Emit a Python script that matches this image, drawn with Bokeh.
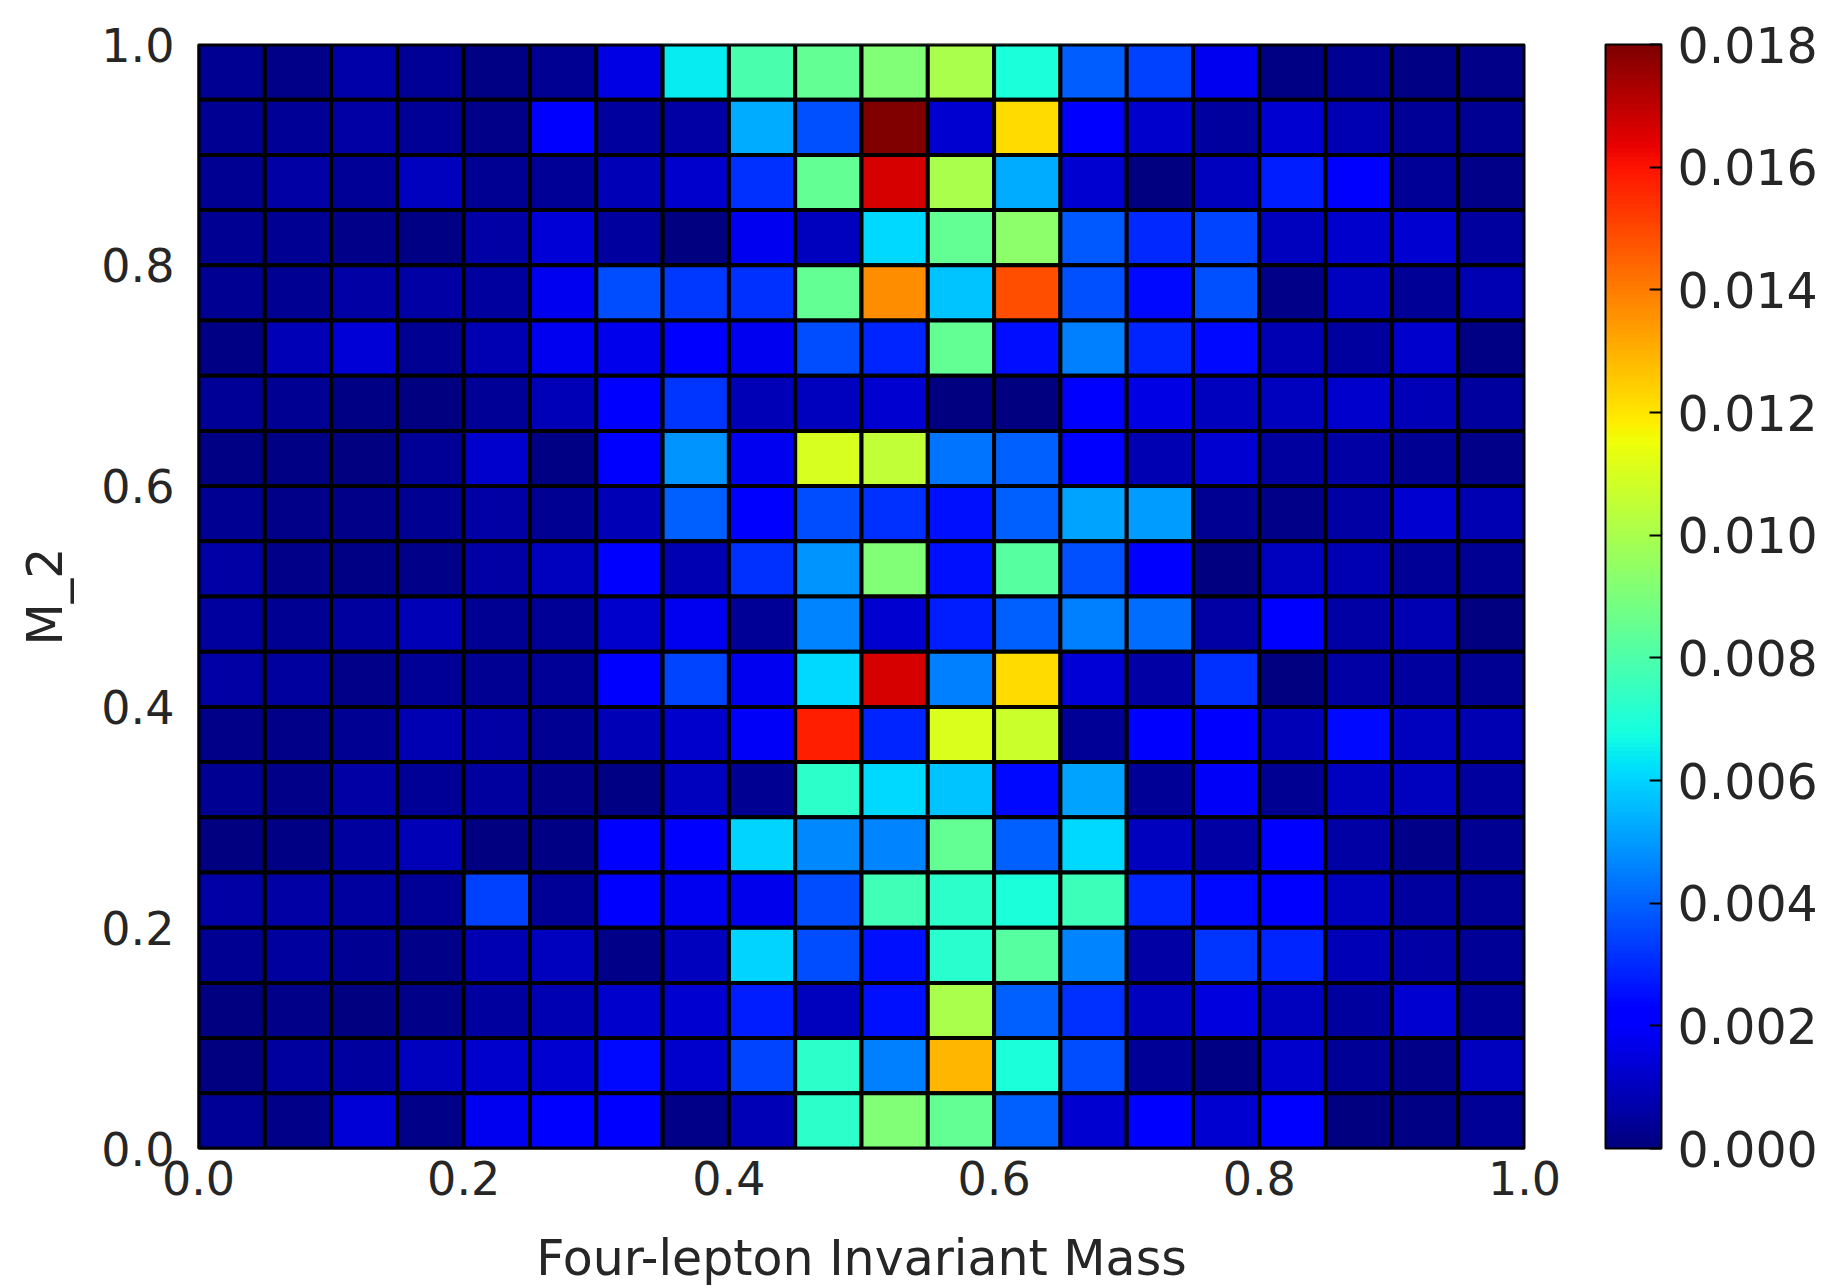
import numpy as np
from bokeh.plotting import figure
from bokeh.models import (ColumnDataSource, LinearColorMapper, ColorBar, FixedTicker,
                          PrintfTickFormatter, Range1d)
from bokeh.transform import transform
from bokeh.embed import file_html
from bokeh.resources import INLINE

# ---- data -------------------------------------------------------------
x_edges = [0.0, 0.05, 0.1, 0.15, 0.2, 0.25, 0.3, 0.35, 0.4, 0.45, 0.5,
           0.55, 0.6, 0.65, 0.7, 0.75, 0.8, 0.85, 0.9, 0.95, 1.0]
y_edges = [0.0, 0.05, 0.1, 0.15, 0.2, 0.25, 0.3, 0.35, 0.4, 0.45, 0.5,
           0.55, 0.6, 0.65, 0.7, 0.75, 0.8, 0.85, 0.9, 0.95, 1.0]

# histogram values, rows listed from the top bin (M_2 0.95-1.0) down to the bottom bin
rows_top_to_bottom = [
    [0.0003, 0.0002, 0.0007, 0.0004, 0.0001, 0.0003, 0.0016, 0.0064, 0.0079, 0.0085,
     0.0091, 0.0100, 0.0069, 0.0039, 0.0034, 0.0018, 0.0001, 0.0003, 0.0001, 0.0002],
    [0.0003, 0.0004, 0.0006, 0.0004, 0.0002, 0.0021, 0.0005, 0.0006, 0.0053, 0.0037,
     0.0180, 0.0013, 0.0122, 0.0020, 0.0012, 0.0005, 0.0013, 0.0008, 0.0004, 0.0003],
    [0.0003, 0.0006, 0.0004, 0.0010, 0.0003, 0.0004, 0.0009, 0.0012, 0.0031, 0.0085,
     0.0166, 0.0100, 0.0053, 0.0013, 0.0000, 0.0010, 0.0028, 0.0022, 0.0004, 0.0002],
    [0.0003, 0.0003, 0.0002, 0.0001, 0.0006, 0.0014, 0.0005, 0.0000, 0.0018, 0.0010,
     0.0061, 0.0085, 0.0094, 0.0038, 0.0030, 0.0035, 0.0010, 0.0012, 0.0013, 0.0005],
    [0.0003, 0.0003, 0.0006, 0.0006, 0.0005, 0.0018, 0.0036, 0.0033, 0.0031, 0.0085,
     0.0137, 0.0057, 0.0149, 0.0037, 0.0024, 0.0037, 0.0002, 0.0010, 0.0004, 0.0008],
    [0.0001, 0.0009, 0.0014, 0.0003, 0.0008, 0.0018, 0.0017, 0.0020, 0.0018, 0.0036,
     0.0029, 0.0085, 0.0025, 0.0045, 0.0029, 0.0024, 0.0008, 0.0005, 0.0012, 0.0001],
    [0.0004, 0.0003, 0.0001, 0.0000, 0.0004, 0.0009, 0.0020, 0.0032, 0.0009, 0.0010,
     0.0013, 0.0000, 0.0000, 0.0020, 0.0016, 0.0010, 0.0010, 0.0012, 0.0009, 0.0005],
    [0.0001, 0.0001, 0.0000, 0.0004, 0.0012, 0.0001, 0.0020, 0.0049, 0.0018, 0.0110,
     0.0105, 0.0043, 0.0040, 0.0020, 0.0008, 0.0013, 0.0005, 0.0006, 0.0003, 0.0002],
    [0.0003, 0.0002, 0.0002, 0.0003, 0.0006, 0.0003, 0.0009, 0.0040, 0.0021, 0.0036,
     0.0031, 0.0026, 0.0040, 0.0052, 0.0050, 0.0003, 0.0002, 0.0006, 0.0013, 0.0008],
    [0.0006, 0.0002, 0.0001, 0.0002, 0.0006, 0.0010, 0.0020, 0.0008, 0.0031, 0.0049,
     0.0091, 0.0026, 0.0082, 0.0037, 0.0020, 0.0000, 0.0010, 0.0008, 0.0004, 0.0003],
    [0.0005, 0.0003, 0.0005, 0.0009, 0.0003, 0.0004, 0.0012, 0.0018, 0.0004, 0.0046,
     0.0013, 0.0028, 0.0040, 0.0045, 0.0042, 0.0006, 0.0020, 0.0006, 0.0008, 0.0000],
    [0.0006, 0.0005, 0.0002, 0.0004, 0.0003, 0.0004, 0.0020, 0.0035, 0.0018, 0.0061,
     0.0166, 0.0045, 0.0122, 0.0014, 0.0006, 0.0031, 0.0000, 0.0006, 0.0005, 0.0003],
    [0.0002, 0.0002, 0.0003, 0.0008, 0.0006, 0.0003, 0.0009, 0.0012, 0.0019, 0.0158,
     0.0029, 0.0111, 0.0107, 0.0004, 0.0020, 0.0022, 0.0009, 0.0024, 0.0010, 0.0008],
    [0.0003, 0.0002, 0.0006, 0.0004, 0.0005, 0.0002, 0.0001, 0.0010, 0.0003, 0.0073,
     0.0061, 0.0057, 0.0024, 0.0052, 0.0004, 0.0019, 0.0003, 0.0010, 0.0010, 0.0005],
    [0.0000, 0.0001, 0.0005, 0.0009, 0.0000, 0.0001, 0.0020, 0.0021, 0.0060, 0.0047,
     0.0046, 0.0085, 0.0040, 0.0061, 0.0010, 0.0006, 0.0020, 0.0006, 0.0002, 0.0003],
    [0.0006, 0.0006, 0.0005, 0.0004, 0.0034, 0.0004, 0.0020, 0.0018, 0.0017, 0.0036,
     0.0077, 0.0073, 0.0069, 0.0076, 0.0029, 0.0024, 0.0020, 0.0010, 0.0005, 0.0004],
    [0.0003, 0.0005, 0.0003, 0.0002, 0.0008, 0.0010, 0.0002, 0.0010, 0.0060, 0.0036,
     0.0026, 0.0072, 0.0082, 0.0046, 0.0006, 0.0032, 0.0029, 0.0009, 0.0006, 0.0004],
    [0.0000, 0.0002, 0.0000, 0.0002, 0.0005, 0.0008, 0.0012, 0.0013, 0.0028, 0.0010,
     0.0026, 0.0100, 0.0040, 0.0031, 0.0010, 0.0015, 0.0010, 0.0005, 0.0013, 0.0004],
    [0.0000, 0.0005, 0.0005, 0.0010, 0.0012, 0.0013, 0.0024, 0.0012, 0.0035, 0.0073,
     0.0045, 0.0129, 0.0069, 0.0036, 0.0004, 0.0001, 0.0012, 0.0004, 0.0002, 0.0010],
    [0.0004, 0.0002, 0.0014, 0.0002, 0.0018, 0.0023, 0.0020, 0.0002, 0.0009, 0.0073,
     0.0091, 0.0085, 0.0040, 0.0013, 0.0020, 0.0013, 0.0021, 0.0000, 0.0001, 0.0004],
]

axis_ticks = [0.0, 0.2, 0.4, 0.6, 0.8, 1.0]
cbar_ticks = [0.000, 0.002, 0.004, 0.006, 0.008, 0.010, 0.012, 0.014, 0.016, 0.018]
cbar_low, cbar_high = 0.0, 0.018
x_label = "Four-lepton Invariant Mass"
y_label = "M_2"

# ---- jet colormap -----------------------------------------------------
t = np.linspace(0, 1, 256)
r = np.interp(t, [0, 0.35, 0.66, 0.89, 1], [0, 0, 1, 1, 0.5])
g = np.interp(t, [0, 0.125, 0.375, 0.64, 0.91, 1], [0, 0, 1, 1, 0, 0])
b = np.interp(t, [0, 0.11, 0.34, 0.65, 1], [0.5, 1, 1, 0, 0])
jet = ["#%02x%02x%02x" % (int(round(rr * 255)), int(round(gg * 255)), int(round(bb * 255)))
       for rr, gg, bb in zip(r, g, b)]

# ---- build cell table -------------------------------------------------
left, right, bottom, top, val = [], [], [], [], []
n_rows = len(rows_top_to_bottom)
for i, row in enumerate(rows_top_to_bottom):
    yi = n_rows - 1 - i
    for j, v in enumerate(row):
        left.append(x_edges[j]); right.append(x_edges[j + 1])
        bottom.append(y_edges[yi]); top.append(y_edges[yi + 1])
        val.append(v)
src = ColumnDataSource(dict(left=left, right=right, bottom=bottom, top=top, val=val))

mapper = LinearColorMapper(palette=jet, low=cbar_low, high=cbar_high)

FONT = "DejaVu Sans"
TXT = "#262626"

p = figure(width=1824, height=1288, frame_width=1326, frame_height=1104,
           x_range=Range1d(0, 1), y_range=Range1d(0, 1),
           output_backend="svg", toolbar_location=None,
           min_border_left=198, min_border_top=44, min_border_bottom=140, min_border_right=300)

p.quad(left="left", right="right", bottom="bottom", top="top", source=src,
       fill_color=transform("val", mapper), line_color="black", line_width=4)

p.grid.visible = False
p.outline_line_color = "black"
p.outline_line_width = 2

for ax in (p.xaxis[0], p.yaxis[0]):
    ax.ticker = FixedTicker(ticks=axis_ticks)
    ax.formatter = PrintfTickFormatter(format="%.1f")
    ax.major_label_text_font = FONT
    ax.major_label_text_font_size = "46px"
    ax.major_label_text_color = TXT
    ax.axis_label_text_font = FONT
    ax.axis_label_text_font_size = "49px"
    ax.axis_label_text_font_style = "normal"
    ax.axis_label_text_color = TXT
    ax.major_tick_in = 8
    ax.major_tick_out = 0
    ax.minor_tick_line_color = None
    ax.axis_line_color = "black"
    ax.axis_line_width = 2

p.xaxis.axis_label = x_label
p.yaxis.axis_label = y_label
p.xaxis.major_label_standoff = 12
p.yaxis.major_label_standoff = 24
p.xaxis.axis_label_standoff = 32
p.yaxis.axis_label_standoff = 24

cb = ColorBar(color_mapper=mapper, ticker=FixedTicker(ticks=cbar_ticks),
              formatter=PrintfTickFormatter(format="%.3f"),
              width=56, height=1104, padding=0, margin=0, location=(81, 0),
              major_label_text_font=FONT, major_label_text_font_size="49px",
              major_label_text_color=TXT, label_standoff=16,
              major_tick_in=12, major_tick_out=0, major_tick_line_color="black",
              major_tick_line_width=2, minor_tick_line_color=None,
              bar_line_color="black", bar_line_width=2, border_line_color=None,
              background_fill_color=None)
p.add_layout(cb, "right")

open("out.html", "w").write(file_html(p, INLINE))
